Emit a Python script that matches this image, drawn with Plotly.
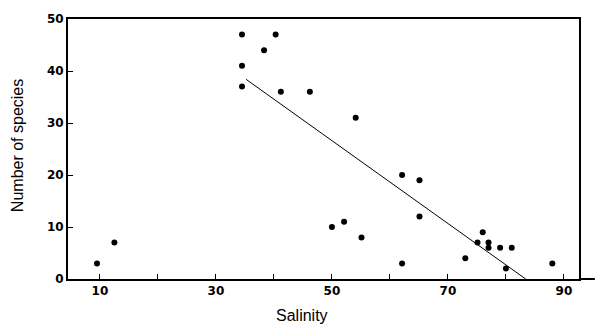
import plotly.graph_objects as go

salinity = [9.5, 12.5, 34.5, 34.5, 34.5, 38.3, 40.3, 41.2, 46.2, 54.1, 62.1, 65.1,
            65.1, 50.0, 52.1, 55.1, 62.1, 73.0, 76.0, 75.1, 77.0, 77.0, 79.0, 81.0,
            80.0, 88.0]
species = [3, 7, 47, 41, 37, 44, 47, 36, 36, 31, 20, 19,
           12, 10, 11, 8, 3, 4, 9, 7, 7, 6, 6, 6,
           2, 3]

fit_x = [35.2, 83.4]
fit_y = [38.4, 0.0]

x_tickvals = [10, 20, 30, 40, 50, 60, 70, 80, 90]
x_ticktext = ["10", "", "30", "", "50", "", "70", "", "90"]
y_tickvals = [0, 10, 20, 30, 40, 50]
y_ticktext = ["0", "10", "20", "30", "40", "50"]

fig = go.Figure()
fig.add_trace(go.Scatter(x=fit_x, y=fit_y, mode="lines",
                         line=dict(color="black", width=1), showlegend=False))
fig.add_trace(go.Scatter(x=salinity, y=species, mode="markers",
                         marker=dict(color="black", size=6, symbol="circle"),
                         showlegend=False))

tickfont = dict(family="DejaVu Sans, sans-serif", size=12, color="black", weight="bold")
titlefont = dict(family="Liberation Sans, Arial, sans-serif", size=16, color="black")

fig.update_layout(
    width=600, height=329,
    margin=dict(l=68, r=21, t=15, b=50),
    paper_bgcolor="white", plot_bgcolor="white",
    xaxis=dict(range=[4.5, 92.6], tickvals=x_tickvals, ticktext=x_ticktext,
               ticks="inside", ticklen=5, tickcolor="black", tickwidth=1,
               showline=True, linecolor="black", linewidth=2, mirror=True,
               showgrid=False, zeroline=False, tickfont=tickfont),
    yaxis=dict(range=[0, 50], tickvals=y_tickvals, ticktext=y_ticktext,
               ticks="inside", ticklen=5, tickcolor="black", tickwidth=1,
               showline=True, linecolor="black", linewidth=2, mirror=True,
               showgrid=False, zeroline=False, tickfont=tickfont),
    shapes=[dict(type="line", xref="paper", yref="paper", x0=1, x1=1.031, y0=0, y1=0,
                 line=dict(color="black", width=2))],
    annotations=[
        dict(text="Salinity", xref="paper", yref="paper", x=0.458, y=-0.140,
             showarrow=False, font=titlefont, xanchor="center", yanchor="middle"),
        dict(text="Number of species", xref="paper", yref="paper", x=-0.0998, y=0.511,
             textangle=-90, showarrow=False, font=titlefont,
             xanchor="center", yanchor="middle"),
    ],
)

fig.write_html("out.html")
